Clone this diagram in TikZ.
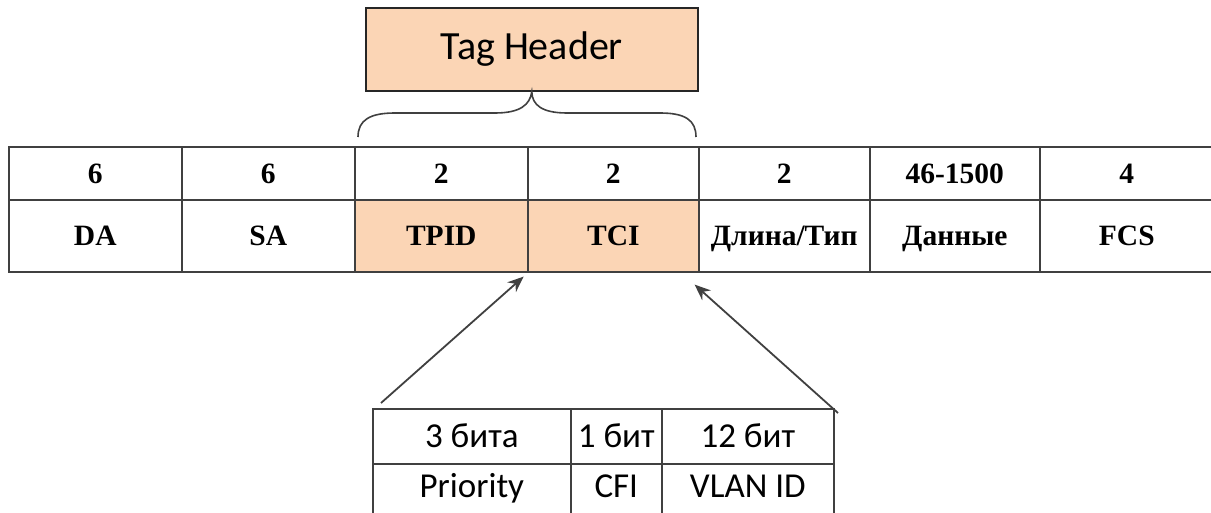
\documentclass[tikz,border=0pt]{standalone}
\usepackage{fontspec}
\setmainfont{Liberation Serif}
\newfontfamily\calfont{Carlito}
\usetikzlibrary{arrows.meta}
\definecolor{peach}{HTML}{FBD5B5}
\definecolor{linec}{HTML}{404040}
\begin{document}
\begin{tikzpicture}[x=1pt,y=1pt,
  cell/.style={draw=linec, line width=1.6pt, inner sep=0pt, anchor=north west,
    text height=19.5pt, text depth=0pt},
  numtxt/.style={font=\fontsize{29.5}{34}\selectfont\bfseries},
  labtxt/.style={font=\fontsize{29.5}{34}\selectfont\bfseries},
  calt/.style={font=\calfont\fontsize{35}{40}\selectfont, text height=22.5pt},
  arr/.style={draw=linec, line width=1.8pt, -{Stealth[length=16pt,width=13pt]}}]
\useasboundingbox (0,0) rectangle (1211,-513);
\clip (0,0) rectangle (1211,-513);
% top row: sizes
\node[cell, numtxt, minimum width=173pt, minimum height=53pt] (n1) at (8,-146) {6};
\node[cell, numtxt, minimum width=173pt, minimum height=53pt] (n2) at (181,-146) {6};
\node[cell, numtxt, minimum width=173pt, minimum height=53pt] (n3) at (354,-146) {2};
\node[cell, numtxt, minimum width=171pt, minimum height=53pt] (n4) at (527,-146) {2};
\node[cell, numtxt, minimum width=171pt, minimum height=53pt] (n5) at (698,-146) {2};
\node[cell, numtxt, minimum width=170pt, minimum height=53pt] (n6) at (869,-146) {46-1500};
\node[cell, numtxt, minimum width=180pt, minimum height=53pt] (n7) at (1039,-146) {\hspace*{-6pt}4};
% second row: names
\node[cell, labtxt, minimum width=173pt, minimum height=72pt] (da) at (8,-199) {DA};
\node[cell, labtxt, minimum width=173pt, minimum height=72pt] (sa) at (181,-199) {SA};
\node[cell, labtxt, fill=peach, minimum width=173pt, minimum height=72pt] (tpid) at (354,-199) {TPID};
\node[cell, labtxt, fill=peach, minimum width=171pt, minimum height=72pt] (tci) at (527,-199) {TCI};
\node[cell, labtxt, minimum width=171pt, minimum height=72pt] (len) at (698,-199) {Длина/Тип};
\node[cell, labtxt, minimum width=170pt, minimum height=72pt] (data) at (869,-199) {Данные};
\node[cell, labtxt, minimum width=180pt, minimum height=72pt] (fcs) at (1039,-199) {\hspace*{-6pt}FCS};
% Tag header
\node[draw=black!85, line width=1.6pt, fill=peach, anchor=north west, inner sep=0pt,
  minimum width=332pt, minimum height=83pt,
  font=\calfont\fontsize{40}{46}\selectfont, text height=25.8pt, text depth=6.2pt] (tag) at (365,-7) {Tag Header};
% brace
\coordinate (bl) at (358,-137);
\coordinate (br) at (696,-137);
\draw[draw=linec, line width=1.6pt]
  (bl) .. controls (358,-120) and (370,-113) .. (395,-113) -- (495,-113)
  .. controls (520,-113) and (530,-105) .. (tag.south)
  .. controls (532,-105) and (542,-113) .. (567,-113) -- (660,-113)
  .. controls (685,-113) and (696,-120) .. (br);
% bottom table
\node[cell, calt, minimum width=198pt, minimum height=55pt] (b1) at (372,-408) {3 бита};
\node[cell, calt, minimum width=91pt, minimum height=55pt] (b2) at (570,-408) {1 бит};
\node[cell, calt, minimum width=172pt, minimum height=55pt] (b3) at (661,-408) {12 бит};
\node[cell, calt, text depth=14.5pt, minimum width=198pt, minimum height=60pt] (p1) at (372,-463) {Priority};
\node[cell, calt, text depth=14.5pt, minimum width=91pt, minimum height=60pt] (p2) at (570,-463) {CFI};
\node[cell, calt, text depth=14.5pt, minimum width=172pt, minimum height=60pt] (p3) at (661,-463) {VLAN ID};
% arrows
\coordinate (s1) at (381,-403);
\coordinate (s2) at (838,-413);
\draw[arr] (s1) -- ([xshift=-5pt,yshift=-4pt]tpid.south east);
\draw[arr] (s2) -- ([xshift=-5pt,yshift=-12pt]tci.south east);
\end{tikzpicture}
\end{document}
